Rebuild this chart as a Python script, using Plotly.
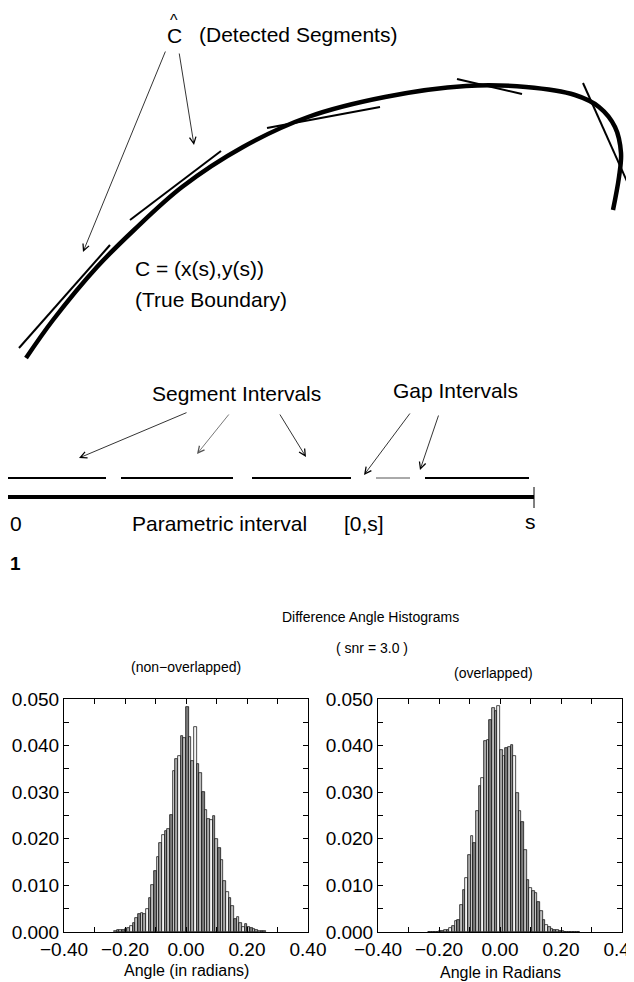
import plotly.graph_objects as go

# ---------------- data ----------------
# True boundary curve C = (x(s), y(s)) (diagram units, y downward)
curve_x = [26, 53, 97, 134, 182, 243, 308, 385, 466, 526, 575, 599, 615, 621, 619, 613]
curve_y = [358, 320, 267, 230, 187, 147, 117, 97, 86, 87, 95, 107, 127, 153, 177, 210]

# Detected straight segments (C hat)
seg_x0 = [19, 130, 267, 457, 583]
seg_y0 = [348, 220, 128, 79, 83]
seg_x1 = [110, 221, 380, 522, 634]
seg_y1 = [245, 151, 107, 94, 197]

# Parametric interval [0, s]
param_start, param_end = 7, 534
seg_int_start = [7, 121, 252, 425]
seg_int_end = [106, 233, 351, 529]
gap_int_start = [376]
gap_int_end = [410]

# Histogram bins (0.5 degree bins, centres in radians)
angle_bins = [-0.2313, -0.2225, -0.2138, -0.2051, -0.1964, -0.1876, -0.1789, -0.1702,
              -0.1615, -0.1527, -0.1440, -0.1353, -0.1265, -0.1178, -0.1091, -0.1004,
              -0.0916, -0.0829, -0.0742, -0.0655, -0.0567, -0.0480, -0.0393, -0.0305,
              -0.0218, -0.0131, -0.0044, 0.0044, 0.0131, 0.0218, 0.0305, 0.0393,
              0.0480, 0.0567, 0.0655, 0.0742, 0.0829, 0.0916, 0.1004, 0.1091,
              0.1178, 0.1265, 0.1353, 0.1440, 0.1527, 0.1615, 0.1702, 0.1789,
              0.1876, 0.1964, 0.2051, 0.2138, 0.2225, 0.2313, 0.2400, 0.2487, 0.2574]
bin_width = 0.008727

non_overlapped = [0.0003, 0.0004, 0.0004, 0.0005, 0.0006, 0.0008, 0.0012, 0.0019,
                  0.0030, 0.0038, 0.0041, 0.0039, 0.0050, 0.0072, 0.0100, 0.0130,
                  0.0160, 0.0190, 0.0208, 0.0216, 0.0222, 0.0252, 0.0345, 0.0372,
                  0.0378, 0.0420, 0.0416, 0.0482, 0.0418, 0.0368, 0.0440, 0.0360,
                  0.0342, 0.0300, 0.0262, 0.0243, 0.0240, 0.0248, 0.0200, 0.0180,
                  0.0155, 0.0110, 0.0085, 0.0072, 0.0055, 0.0027, 0.0033, 0.0020,
                  0.0010, 0.0018, 0.0011, 0.0008, 0.0007, 0.0004, 0.0003, 0.0003, 0.0002]

overlapped = [0, 0, 0, 0, 0.0002, 0.0002, 0.0004, 0.0005,
              0.0009, 0.0012, 0.0023, 0.0026, 0.0057, 0.0091, 0.0116, 0.0166,
              0.0205, 0.0191, 0.0260, 0.0313, 0.0330, 0.0409, 0.0412, 0.0456,
              0.0480, 0.0474, 0.0484, 0.0391, 0.0377, 0.0395, 0.0398, 0.0402,
              0.0377, 0.0298, 0.0259, 0.0237, 0.0177, 0.0112, 0.0094, 0.0087,
              0.0084, 0.0065, 0.0045, 0.0025, 0.0015, 0.0010, 0.0007, 0.0005,
              0.0004, 0.0003, 0.0002, 0, 0, 0, 0, 0, 0]

x_tick_vals = [-0.4, -0.3, -0.2, -0.1, 0.0, 0.1, 0.2, 0.3, 0.4]
x_tick_text = ["\u22120.40", "", "\u22120.20", "", "0.00", "", "0.20", "", "0.40"]
y_tick_vals = [0.0, 0.005, 0.01, 0.015, 0.02, 0.025, 0.03, 0.035, 0.04, 0.045, 0.05]
y_tick_text = ["0.000", "", "0.010", "", "0.020", "", "0.030", "", "0.040", "", "0.050"]

# ---------------- figure ----------------
PAGE_W, PAGE_H = 634, 982
OFF = 8  # default page margin of the html body
W, H = PAGE_W - OFF, PAGE_H - OFF
FONT = "Liberation Sans, Arial, Helvetica, sans-serif"
fig = go.Figure()

def join_segments(x0, y0, x1, y1):
    xs, ys = [], []
    for a, b, c, d in zip(x0, y0, x1, y1):
        xs += [a, c, None]
        ys += [b, d, None]
    return xs, ys

# Diagram (page-pixel coordinates on axis x/y)
fig.add_trace(go.Scatter(x=curve_x, y=curve_y, mode="lines",
                         line=dict(color="black", width=4.5, shape="spline", smoothing=1.0),
                         xaxis="x", yaxis="y", hoverinfo="skip"))
sx, sy = join_segments(seg_x0, seg_y0, seg_x1, seg_y1)
fig.add_trace(go.Scatter(x=sx, y=sy, mode="lines", line=dict(color="black", width=2),
                         xaxis="x", yaxis="y", hoverinfo="skip"))

INT_Y, BASE_Y = 478, 497
ix, iy = join_segments(seg_int_start, [INT_Y] * 4, seg_int_end, [INT_Y] * 4)
fig.add_trace(go.Scatter(x=ix, y=iy, mode="lines", line=dict(color="black", width=2),
                         xaxis="x", yaxis="y", hoverinfo="skip"))
gx, gy = join_segments(gap_int_start, [INT_Y], gap_int_end, [INT_Y])
fig.add_trace(go.Scatter(x=gx, y=gy, mode="lines", line=dict(color="#555", width=1),
                         xaxis="x", yaxis="y", hoverinfo="skip"))
fig.add_trace(go.Scatter(x=[param_start, param_end], y=[BASE_Y, BASE_Y], mode="lines",
                         line=dict(color="black", width=4), xaxis="x", yaxis="y", hoverinfo="skip"))
fig.add_trace(go.Scatter(x=[param_end, param_end], y=[487, 508], mode="lines",
                         line=dict(color="black", width=1), xaxis="x", yaxis="y", hoverinfo="skip"))

# Histograms
def shades(n):
    pal = ["#f4f4f4", "#9a9a9a", "#bdbdbd", "#7c7c7c", "#d8d8d8", "#a8a8a8"]
    return [pal[i % len(pal)] for i in range(n)]

fig.add_trace(go.Bar(x=angle_bins, y=non_overlapped, width=bin_width,
                     marker=dict(color=shades(len(angle_bins)), line=dict(color="black", width=0.7)),
                     xaxis="x2", yaxis="y2", hoverinfo="skip"))
fig.add_trace(go.Bar(x=angle_bins, y=overlapped, width=bin_width,
                     marker=dict(color=shades(len(angle_bins))[::-1], line=dict(color="black", width=0.7)),
                     xaxis="x3", yaxis="y3", hoverinfo="skip"))

def px(v):
    return (v - OFF) / W

def py(v):
    return 1 - (v - OFF) / H

hist_x = dict(range=[-0.4, 0.4], tickvals=x_tick_vals, ticktext=x_tick_text,
              ticks="inside", ticklen=5, tickwidth=1, tickcolor="black",
              showline=True, linecolor="black", linewidth=1, mirror="ticks",
              showgrid=False, zeroline=False, fixedrange=True, automargin=False,
              ticklabeloverflow="allow",
              tickfont=dict(family=FONT, size=19, color="black"))
hist_y = dict(range=[0, 0.05], tickvals=y_tick_vals, ticktext=y_tick_text,
              ticks="inside", ticklen=5, tickwidth=1, tickcolor="black",
              showline=True, linecolor="black", linewidth=1, mirror="ticks",
              showgrid=False, zeroline=False, fixedrange=True, automargin=False,
              ticklabeloverflow="allow",
              tickfont=dict(family=FONT, size=19, color="black"))

fig.update_layout(
    width=W, height=H, margin=dict(l=0, r=0, t=0, b=0, pad=0, autoexpand=False),
    paper_bgcolor="white", plot_bgcolor="rgba(0,0,0,0)",
    showlegend=False, bargap=0,
    xaxis=dict(domain=[0, 1], range=[OFF, PAGE_W], visible=False, fixedrange=True, automargin=False),
    yaxis=dict(domain=[0, 1], range=[PAGE_H, OFF], visible=False, fixedrange=True, automargin=False),
    xaxis2=dict(domain=[px(64), px(308)], anchor="y2", **hist_x),
    yaxis2=dict(domain=[py(932), py(699)], anchor="x2", **hist_y),
    xaxis3=dict(domain=[px(378), px(622)], anchor="y3", **hist_x),
    yaxis3=dict(domain=[py(932), py(699)], anchor="x3", **hist_y),
)

def text(x, y, s, size=21, xanchor="left", bold=False):
    fig.add_annotation(x=x, y=y, xref="x", yref="y", text=(f"<b>{s}</b>" if bold else s),
                       showarrow=False, xanchor=xanchor, yanchor="middle",
                       font=dict(family=FONT, size=size, color="black"))

def arrow(x_tail, y_tail, x_head, y_head, color="black", width=0.8):
    fig.add_annotation(x=x_head, y=y_head, ax=x_tail, ay=y_tail, xref="x", yref="y",
                       axref="x", ayref="y", text="", showarrow=True, arrowhead=5,
                       arrowsize=1.6, arrowwidth=width, arrowcolor=color)

# top diagram text
text(174, 20, "^", size=16, xanchor="center")
text(174, 35, "C", size=21, xanchor="center")
text(197, 34, "(Detected Segments)")
text(133, 268, "C = (x(s),y(s))")
text(133, 299, "(True Boundary)")
arrow(166, 50, 83, 252)
arrow(179, 52, 194, 145)

# interval diagram text
text(150, 393, "Segment Intervals")
text(391, 390, "Gap Intervals")
arrow(188, 412, 79, 458)
arrow(230, 413, 197, 454, color="#555")
arrow(279, 413, 306, 457)
arrow(411, 412, 364, 475)
arrow(439, 414, 420, 470)
text(8, 523, "0")
text(130, 523, "Parametric interval")
text(342, 523, "[0,s]")
text(530, 521, "s", xanchor="center")
text(8, 563, "1", size=19, xanchor="left", bold=True)

# histogram titles
text(370, 617, "Difference Angle Histograms", size=14, xanchor="center")
text(372, 648, "( snr = 3.0 )", size=14, xanchor="center")
text(186, 667, "(non\u2212overlapped)", size=14, xanchor="center")
text(493, 673, "(overlapped)", size=14, xanchor="center")
text(186, 970, "Angle (in radians)", size=16, xanchor="center")
text(500, 972, "Angle in Radians", size=16, xanchor="center")

fig.write_html("out.html")
